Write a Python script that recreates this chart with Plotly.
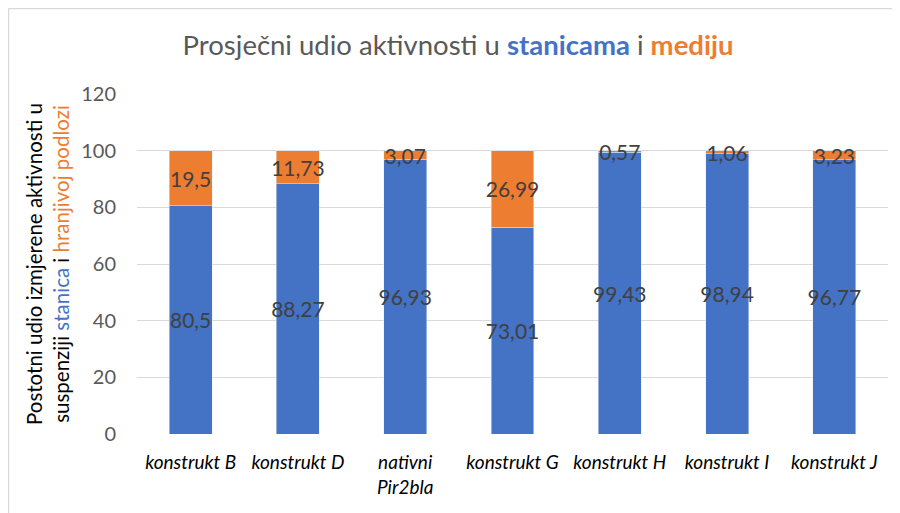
import plotly.graph_objects as go

categories = ["<i>konstrukt B</i>", "<i>konstrukt D</i>", "<i>nativni<br>Pir2bla</i>",
              "<i>konstrukt G</i>", "<i>konstrukt H</i>", "<i>konstrukt I</i>", "<i>konstrukt J</i>"]
stanice = [80.5, 88.27, 96.93, 73.01, 99.43, 98.94, 96.77]
medij = [19.5, 11.73, 3.07, 26.99, 0.57, 1.06, 3.23]
y_ticks = [0, 20, 40, 60, 80, 100, 120]

BLUE = "#4472C4"
ORANGE = "#ED7D31"
FONT = "Lato"
LBL = 21

def fmt(v):
    return ("%g" % v).replace(".", ",")

fig = go.Figure()
fig.add_trace(go.Bar(x=categories, y=stanice, marker_color=BLUE, name="stanice",
                     text=[fmt(v) for v in stanice], textposition="inside",
                     insidetextanchor="middle", textangle=0,
                     textfont=dict(color="#404040", size=LBL, family=FONT)))
fig.add_trace(go.Bar(x=categories, y=medij, marker_color=ORANGE, name="medij",
                     text=[fmt(v) for v in medij], textposition="inside",
                     insidetextanchor="middle", textangle=0,
                     textfont=dict(color="#404040", size=LBL, family=FONT)))

# page has an 8px body margin, so the figure is 892x505 starting at (8, 8)
W, H = 892, 505
L, T, R, B = 129, 86, 12, 79
PW, PH = W - L - R, H - T - B

def px(sx):
    return (sx - 8 - L) / PW

def py(sy):
    return (H - B - (sy - 8)) / PH

fig.update_layout(
    barmode="stack", bargap=0.6, width=W, height=H,
    paper_bgcolor="white", plot_bgcolor="white",
    showlegend=False,
    uniformtext=dict(minsize=LBL, mode="show"),
    margin=dict(l=L, r=R, t=T, b=B, autoexpand=False),
    font=dict(family=FONT, color="#595959"),
    title=dict(text="Prosječni udio aktivnosti u <b><span style='color:%s'>stanicama</span></b> i <b><span style='color:%s'>mediju</span></b>" % (BLUE, ORANGE),
               xref="container", x=(458 - 8) / W, xanchor="center",
               yref="container", y=1 - (45 - 8) / H, yanchor="middle",
               font=dict(size=27.5, color="#595959", family=FONT)),
    xaxis=dict(tickfont=dict(size=19, color="#000000", family=FONT), showline=False,
               ticks="", showgrid=False, ticklabelstandoff=15),
    yaxis=dict(range=[0, 120], tickvals=y_ticks, ticktext=[str(t) for t in y_ticks],
               tickfont=dict(size=20, color="#595959", family=FONT),
               gridcolor="#D9D9D9", gridwidth=1, zeroline=False, showline=False,
               ticks="", ticklabelstandoff=20,
               title=dict(text="Postotni udio izmjerene aktivnosti u<br>suspenziji <span style='color:%s'>stanica</span> i <span style='color:%s'>hranjivoj podlozi</span>" % (BLUE, ORANGE),
                          font=dict(size=20.5, color="#000000", family=FONT), standoff=6)),
)
fig.add_shape(type="line", xref="paper", yref="paper",
              x0=px(8.5), x1=px(900), y0=py(8.5), y1=py(8.5),
              line=dict(color="#D9D9D9", width=1.5), layer="below")
fig.add_shape(type="line", xref="paper", yref="paper",
              x0=px(8.5), x1=px(8.5), y0=py(8.5), y1=py(513),
              line=dict(color="#D9D9D9", width=1.5), layer="below")
fig.write_html("out.html")
